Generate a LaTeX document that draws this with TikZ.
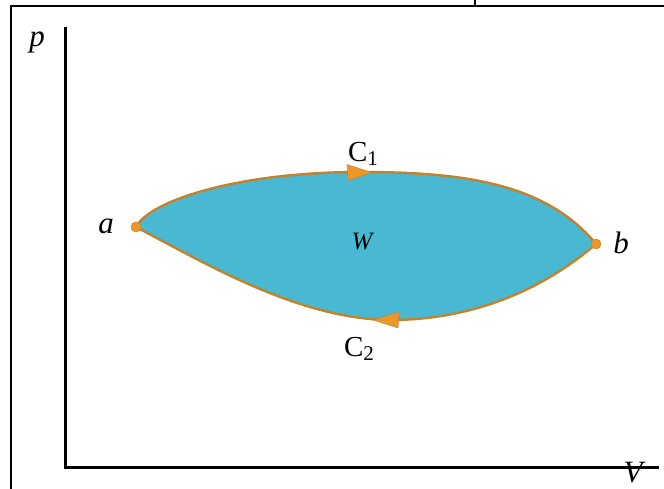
\documentclass[tikz,border=0pt]{standalone}
\usepackage{fontspec}
\setmainfont{Liberation Serif}
\definecolor{fillblue}{RGB}{72,184,211}
\definecolor{edgeorange}{RGB}{196,130,45}
\definecolor{tiporange}{RGB}{236,152,40}
\newcommand{\cursub}[1]{\raisebox{-0.35ex}{\fontsize{21}{22}\selectfont #1}}
\begin{document}
\begin{tikzpicture}[x=1pt,y=-1pt,
  frameline/.style={line width=2.6pt,black},
  axisline/.style={line width=3pt,black},
  cycleedge/.style={draw=edgeorange,line width=2.4pt,fill=fillblue},
  tiptri/.style={fill=tiporange,draw=edgeorange,line width=0.4pt},
  lbl/.style={font=\fontsize{29}{32}\selectfont,inner sep=0pt},
  itlbl/.style={font=\fontsize{31}{34}\selectfont\itshape,inner sep=0pt},
  dotstyle/.style={fill=tiporange,draw=edgeorange,line width=0.5pt}]
\useasboundingbox (0,0) rectangle (664,489);
\fill[white] (0,0) rectangle (664,489);
% frame
\coordinate (ftl) at (11,6);
\coordinate (fbl) at (11,489);
\coordinate (ftr) at (664,6);
\coordinate (tick1) at (475,0);
\coordinate (tick2) at (475,6);
\draw[frameline] (fbl) -- (ftl) -- (ftr);
\draw[line width=1.2pt] (tick1) -- (tick2);
% axes
\coordinate (ytop) at (65,27);
\coordinate (orig) at (65,467);
\coordinate (xend) at (659,467);
\draw[axisline] (ytop) -- (orig) -- (xend);
\node[itlbl] (plabel) at (37,42) {p};
\node[itlbl] (vlabel) at (633,473) {V};
% cycle
\coordinate (a) at (136,227);
\coordinate (b) at (596,244);
\coordinate (top) at (360,172);
\coordinate (bot) at (390,320);
\path[cycleedge] (a) .. controls (150,200) and (240,172) .. (top)
  .. controls (460,172) and (545,182) .. (b)
  .. controls (540,292) and (470,320) .. (bot)
  .. controls (300,319) and (210,266) .. (a) -- cycle;
% arrowheads
\filldraw[tiptri] (372,172.5) -- (347,164.5) -- (348,180.5) -- cycle;
\filldraw[tiptri] (373,320) -- (399,312) -- (398,328) -- cycle;
% end points
\filldraw[dotstyle] (a) circle (5);
\filldraw[dotstyle] (b) circle (5);
% labels
\node[itlbl] (alabel) at (106,226) {a};
\node[itlbl] (blabel) at (621,243) {b};
\node[lbl,font=\fontsize{25}{27}\selectfont\itshape] (wlabel) at (362,242) {W};
\node[lbl] (c1label) at (363,154) {C\cursub{1}};
\node[lbl] (c2label) at (359,349) {C\cursub{2}};
\end{tikzpicture}
\end{document}
